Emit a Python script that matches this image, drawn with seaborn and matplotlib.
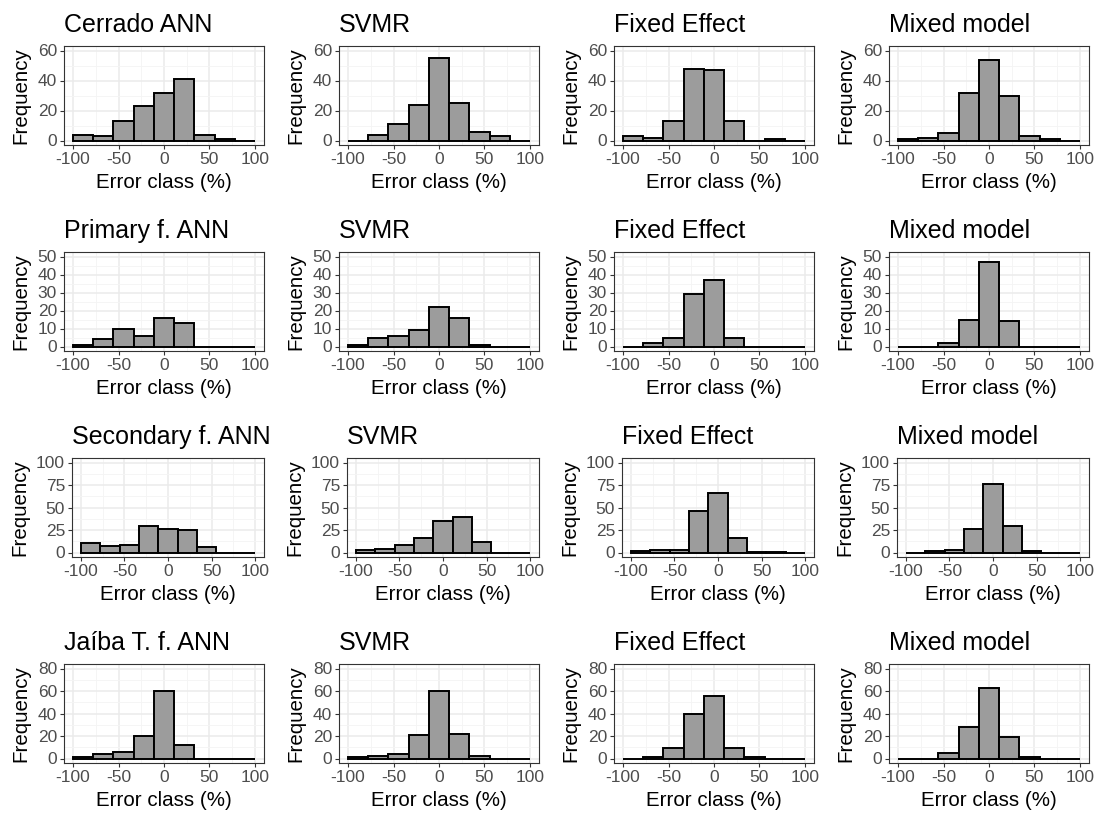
import numpy as np
import pandas as pd
import matplotlib
matplotlib.use("Agg")
import matplotlib.pyplot as plt
from matplotlib.ticker import MultipleLocator
import seaborn as sns

# Error classes: 9 bins from -100 to 100
n_bins = 9
edges = np.linspace(-100, 100, n_bins + 1)
centers = (edges[:-1] + edges[1:]) / 2

# Panel titles, one list per row
titles_cerrado = ["Cerrado ANN", "SVMR", "Fixed Effect", "Mixed model"]
titles_primary = ["Primary f. ANN", "SVMR", "Fixed Effect", "Mixed model"]
titles_secondary = ["Secondary f. ANN", "SVMR", "Fixed Effect", "Mixed model"]
titles_jaiba = ["Jaíba T. f. ANN", "SVMR", "Fixed Effect", "Mixed model"]

# Frequencies per error class
cerrado_ann = [4, 3, 13, 23, 32, 41, 4, 1, 0]
cerrado_svmr = [0, 4, 11, 24, 55, 25, 6, 3, 0]
cerrado_fixed = [3, 2, 13, 48, 47, 13, 0, 1, 0]
cerrado_mixed = [1, 2, 5, 32, 54, 30, 3, 1, 0]

primary_ann = [1, 4, 10, 6, 16, 13, 0, 0, 0]
primary_svmr = [1, 5, 6, 9, 22, 16, 1, 0, 0]
primary_fixed = [0, 2, 5, 29, 37, 5, 0, 0, 0]
primary_mixed = [0, 0, 2, 15, 47, 14, 0, 0, 0]

secondary_ann = [11, 7, 8, 30, 26, 25, 6, 0, 0]
secondary_svmr = [3, 4, 8, 16, 35, 39, 12, 0, 0]
secondary_fixed = [2, 3, 3, 46, 66, 16, 1, 1, 0]
secondary_mixed = [0, 2, 3, 26, 76, 29, 2, 0, 0]

jaiba_ann = [1, 4, 6, 20, 60, 12, 0, 0, 0]
jaiba_svmr = [1, 2, 4, 21, 60, 22, 2, 0, 0]
jaiba_fixed = [0, 1, 9, 40, 56, 9, 1, 0, 0]
jaiba_mixed = [0, 0, 5, 28, 63, 19, 1, 0, 0]

rows = [
    (titles_cerrado, [cerrado_ann, cerrado_svmr, cerrado_fixed, cerrado_mixed], 60, 20),
    (titles_primary, [primary_ann, primary_svmr, primary_fixed, primary_mixed], 50, 10),
    (titles_secondary, [secondary_ann, secondary_svmr, secondary_fixed, secondary_mixed], 100, 25),
    (titles_jaiba, [jaiba_ann, jaiba_svmr, jaiba_fixed, jaiba_mixed], 80, 20),
]

sns.set_style("white")
plt.rcParams["font.family"] = ["Liberation Sans", "DejaVu Sans"]

W, H = 1097, 816
fig = plt.figure(figsize=(W / 100, H / 100), dpi=100)

row_top = [46, 252, 458, 664]
panel_h = 99

for r, (titles, series, ymax, ystep) in enumerate(rows):
    # row with 3-digit y ticks gets narrower panels
    if ymax >= 100:
        lefts = [72, 347, 622, 897]
        pw = 192
    else:
        lefts = [64, 339, 614, 889]
        pw = 200
    for c in range(4):
        ax = fig.add_axes([lefts[c] / W, 1 - (row_top[r] + panel_h) / H, pw / W, panel_h / H])
        ax.set_axisbelow(True)
        df = pd.DataFrame({"error": centers, "freq": series[c]})
        sns.histplot(data=df, x="error", weights="freq", bins=n_bins, binrange=(-100, 100),
                     ax=ax, color="#9c9c9c", edgecolor="black", linewidth=1.4, alpha=1)

        ax.set_xlim(-110, 110)
        ax.set_ylim(-ymax * 0.05, ymax * 1.05)
        ax.set_xticks(np.arange(-100, 101, 50))
        ax.set_xticklabels(["-100", "-50", "0", "50", "100"])
        ax.xaxis.set_minor_locator(MultipleLocator(25))
        ax.set_yticks(np.arange(0, ymax + 1, ystep))
        ax.yaxis.set_minor_locator(MultipleLocator(ystep / 2))

        ax.grid(which="major", color="#ebebeb", linewidth=1.1)
        ax.grid(which="minor", color="#f4f4f4", linewidth=0.6)
        ax.tick_params(which="major", bottom=True, left=True, direction="out",
                       length=2.8, width=0.8, color="#333333",
                       labelsize=12.5, labelcolor="#4d4d4d", pad=2.2)
        ax.tick_params(which="minor", length=0)
        for s in ax.spines.values():
            s.set_color("#333333")
            s.set_linewidth(0.8)

        ax.set_xlabel("Error class (%)", fontsize=14.8, labelpad=4, color="black")
        ax.set_ylabel("Frequency", fontsize=14.8, labelpad=5, color="black")
        ax.set_title(titles[c], loc="left", fontsize=18, pad=10, color="black")

fig.savefig("out.png", dpi=100)
